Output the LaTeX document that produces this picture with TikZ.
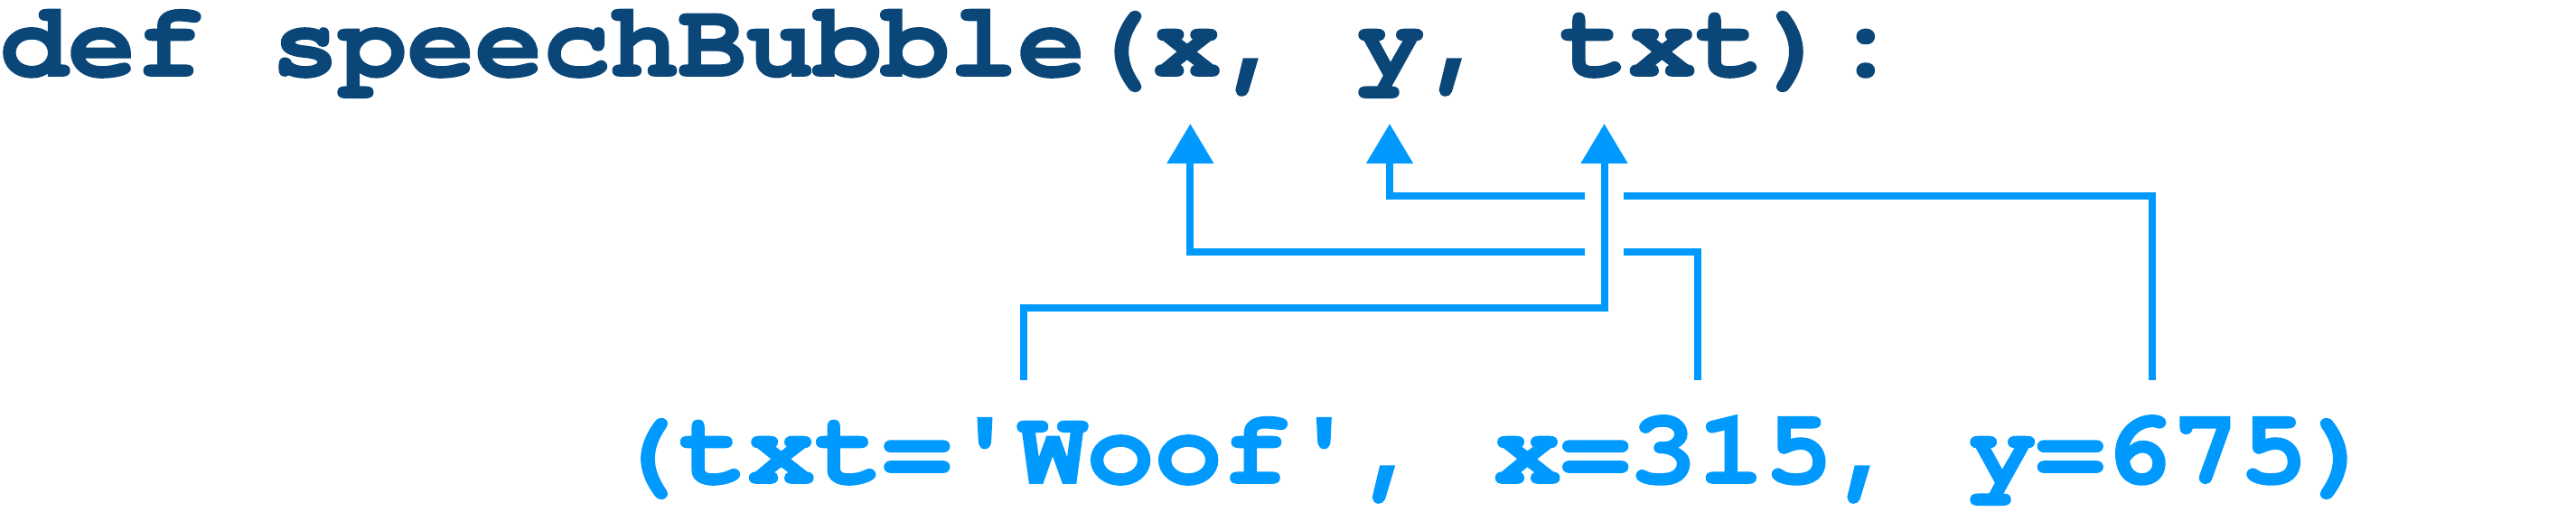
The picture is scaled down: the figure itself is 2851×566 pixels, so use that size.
\documentclass[tikz,border=0pt]{standalone}
\usepackage{graphicx}
\usepackage{fontspec}
\setmonofont{texgyrecursor}[Extension=.otf, UprightFont=*-regular, BoldFont=*-bold,
  ItalicFont=*-italic, BoldItalicFont=*-bolditalic, FakeStretch=1.065,
  BoldFeatures={FakeBold=1.6}]
\usetikzlibrary{arrows.meta}
\definecolor{codeblue}{RGB}{10,70,120}
\definecolor{argblue}{RGB}{0,154,255}
\newcommand\shortparen[1]{\scalebox{1}[0.96]{#1}}
\begin{document}
\begin{tikzpicture}[x=1pt,y=-1pt,
  code/.style={inner sep=0pt, outer sep=0pt, anchor=base west,
    font=\fontsize{117.5}{140}\selectfont\ttfamily\bfseries},
  sig/.style={code, text=codeblue},
  call/.style={code, text=argblue},
  conn/.style={draw=argblue, line width=8pt,
    -{Triangle[length=44pt 0 0, width=50pt 0 0]}},
  halo/.style={draw=white, line width=43pt}]
\useasboundingbox (0,0) rectangle (2851,566);
% signature line
\node[sig] (s0) at (0,84) {def speechBubble\shortparen{(}};
\node[sig] (px) at (s0.base east) {x};
\node[sig] (s1) at (px.base east) {,\phantom{,}};
\node[sig] (py) at (s1.base east) {y};
\node[sig] (s2) at (py.base east) {,\phantom{,}};
\node[sig] (pt) at (s2.base east) {txt};
\node[sig] (s3) at (pt.base east) {\shortparen{)}:};
% call line
\node[call] (c0) at (677,535) {\shortparen{(}};
\node[call] (ct) at (c0.base east) {txt='Woof'};
\node[call] (c1) at (ct.base east) {,\phantom{,}};
\node[call] (cx) at (c1.base east) {x=315};
\node[call] (c2) at (cx.base east) {,\phantom{,}};
\node[call] (cy) at (c2.base east) {y=675};
\node[call] (c3) at (cy.base east) {\shortparen{)}};
% connector ends and levels
\coordinate (fT) at ([shift={(5.5,-114)}]ct.base);
\coordinate (fX) at ([shift={(38.5,-114)}]cx.base);
\coordinate (fY) at ([shift={(16,-114)}]cy.base);
\coordinate (tX) at ([shift={(3.4,53)}]px.base);
\coordinate (tY) at ([shift={(-1.2,53)}]py.base);
\coordinate (tT) at ([shift={(-64,53)}]pt.base);
\coordinate (lvA) at (0,217);
\coordinate (lvB) at (0,279);
\coordinate (lvC) at (0,341);
\coordinate (lvH) at (0,205);
% connectors
\draw[conn] (fX) -- (fX |- lvB) -| (tX);
\draw[conn] (fY) -- (fY |- lvA) -| (tY);
\draw[halo] (tT |- lvC) -- (tT |- lvH);
\draw[conn] (fT) -- (fT |- lvC) -| (tT);
\end{tikzpicture}
\end{document}
